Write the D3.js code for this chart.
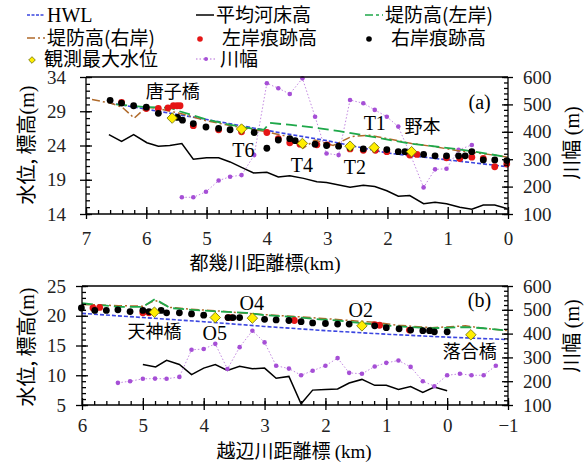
<!DOCTYPE html>
<html>
<head>
<meta charset="utf-8">
<script src="https://cdn.jsdelivr.net/npm/d3@7"></script>
<style>
  body { margin: 0; background: #fff; }
  svg { display: block; }
</style>
</head>
<body>
<svg id="chart" width="584" height="468"></svg>
<script>
// ---- panel (a) 都幾川 : [distance km, value] ----
const hwlA = [[6.6,30.2],[5,27.8],[4,26.2],[3,24.7],[2,22.9],[1,21.9],[0,20.9]];
const bedA = [[6.62,25.6],[6.41,24.6],[6.21,25.6],[5.99,24.4],[5.8,23.9],[5.61,24.0],[5.41,24.3],[5.22,22.0],[5.0,22.2],[4.8,22.2],[4.61,21.6],[4.42,20.8],[4.22,20.0],[4.0,20.1],[3.81,19.4],[3.62,19.6],[3.39,19.2],[3.17,18.7],[3.01,18.6],[2.62,17.9],[2.4,18.2],[2.21,18.0],[2.01,17.4],[1.82,16.6],[1.63,16.7],[1.4,15.5],[1.21,15.7],[1.02,15.5],[0.8,15.0],[0.6,14.7],[0.41,15.3],[0.22,15.3],[0.02,14.8]];
const leveeLA = [[6.5,30.0],[6.0,29.6],[5.6,29.5],[5.45,29.0],[5.0,27.8],[4.6,27.0],[4.2,26.4],[4.05,26.3],[3.95,27.3],[3.6,27.0],[3.2,26.6],[2.8,26.1],[2.4,25.5],[1.63,24.3],[1.25,23.9],[0.7,23.3],[0,22.3]];
const leveeRA = [[6.9,30.7],[6.6,30.2],[6.4,29.6],[6.2,28.0],[6.0,29.6],[5.8,29.4],[5.6,29.0],[5.4,28.6],[5.0,27.6],[4.6,26.9],[4.2,26.3],[4.0,26.0],[3.6,25.2],[3.4,23.6],[3.2,24.8],[2.9,24.0],[2.6,25.3],[2.3,25.5],[2.0,25.0],[1.6,24.3],[1.2,23.8],[0.8,23.2],[0.4,22.8],[0,22.3]];
const markLA = [[6.41,30.3],[6.0,29.4],[5.8,29.4],[5.64,29.5],[5.55,29.8],[5.49,29.8],[5.44,29.8],[5.22,26.9],[4.8,26.3],[4.42,26.0],[4.0,25.9],[3.81,25.0],[3.62,24.4],[3.45,24.2],[3.17,24.1],[3.0,24.1],[2.62,23.5],[2.4,23.3],[2.2,23.3],[2.01,23.1],[1.63,22.6],[1.51,22.7],[1.02,22.2],[0.8,22.1],[0.6,22.3],[0.41,22.1],[0.22,20.9],[0.02,21.3]];
const markRA = [[6.6,30.6],[6.41,30.2],[6.21,29.8],[6.0,29.6],[5.8,28.7],[5.48,28.1],[5.4,27.7],[5.22,27.2],[5.01,26.7],[4.8,26.5],[4.61,26.3],[4.21,25.9],[4.0,23.6],[3.81,24.8],[3.62,25.0],[3.53,24.7],[3.2,24.2],[3.01,24.0],[2.81,23.9],[2.62,23.7],[2.4,23.5],[2.21,23.7],[2.01,23.4],[1.82,23.1],[1.71,23.1],[1.4,22.7],[1.21,22.5],[1.02,22.5],[0.82,22.5],[0.71,22.5],[0.6,23.1],[0.41,21.9],[0.22,21.9],[0.02,21.8]];
const maxLevelA = [[5.57,28.0],[4.42,26.4],[3.41,24.3],[2.62,23.9],[2.22,23.7],[1.6,23.1]];
const widthA = [[5.41,161],[5.22,161],[5.01,181],[4.8,222],[4.61,236],[4.42,242],[4.21,315],[4.0,577],[3.81,559],[3.62,538],[3.41,595],[3.2,455],[3.01,321],[2.81,315],[2.62,516],[2.4,504],[2.21,480],[2.01,455],[1.82,419],[1.61,312],[1.4,197],[1.21,263],[1.02,265],[0.82,334],[0.6,352]];
const labelsA = [["唐子橋",5.56,92,"jp"],["T6",4.39,150,"en"],["T4",3.42,165,"en"],["T2",2.54,167,"en"],["T1",2.21,123,"en"],["野本",1.42,127,"jp"],["(a)",0.47,102,"en"]];

// ---- panel (b) 越辺川 ----
const hwlB = [[6,20.4],[5,19.7],[4,19.0],[3,18.2],[2,17.5],[1,16.9],[0,16.4],[-1,16.0]];
const bedB = [[5.0,11.8],[4.79,11.4],[4.61,12.5],[4.4,11.8],[4.2,10.1],[4.0,11.2],[3.81,11.8],[3.61,10.8],[3.41,11.5],[3.2,11.1],[3.0,11.2],[2.81,9.5],[2.6,9.8],[2.4,5.2],[2.21,7.5],[2.0,7.6],[1.8,7.7],[1.61,8.7],[1.4,9.3],[1.19,8.3],[1.0,8.3],[0.8,7.6],[0.6,8.1],[0.4,7.1],[0.21,8.0],[0,7.4]];
const leveeLB = [[6,22.1],[5.4,21.5],[5.0,21.5],[4.8,22.8],[4.55,21.3],[4.2,21.0],[3.75,20.7],[3.3,20.5],[3.0,20.1],[2.55,19.8],[2.1,19.4],[1.9,19.3],[1.35,18.7],[0.8,18.2],[0.25,17.9],[-0.3,18.1],[-0.6,17.9],[-1,17.5]];
const leveeRB = [[6,21.9],[5.4,21.7],[5.0,21.6],[4.8,22.6],[4.55,21.4],[4.2,21.1],[3.75,20.8],[3.3,20.4],[3.0,20.2],[2.55,19.9],[2.1,19.6],[1.6,19.2],[1.2,18.9],[0.8,18.4],[0.25,18.0],[-0.3,18.3],[-0.6,17.9],[-1,17.5]];
const markLB = [[5.82,21.3],[5.71,21.4],[5.0,20.5],[4.9,20.5],[3.6,19.7],[3.55,19.7],[2.51,19.2],[1.19,18.5],[1.11,18.4],[0.62,17.6]];
const markRB = [[6.01,21.3],[5.79,20.9],[5.6,20.9],[5.41,21.0],[5.21,20.7],[5.0,20.9],[4.9,20.7],[4.7,20.9],[4.61,20.5],[4.4,20.5],[4.2,20.3],[4.0,20.1],[3.6,19.7],[3.52,19.7],[3.41,19.7],[3.0,19.4],[2.81,19.3],[2.6,19.2],[2.4,19.0],[2.21,18.8],[2.0,18.7],[1.8,18.6],[1.61,18.6],[1.19,18.3],[1.0,18.0],[0.79,17.8],[0.6,17.6],[0.4,17.5],[0.29,17.5],[0.21,17.3],[0,17.3]];
const maxLevelB = [[4.81,20.6],[3.81,19.7],[3.2,19.6],[1.4,18.3],[-0.39,16.8]];
const widthB = [[5.41,193],[5.21,200],[5.0,210],[4.8,211],[4.61,210],[4.4,218],[4.2,332],[4.0,335],[3.81,357],[3.61,251],[3.41,343],[3.2,412],[3.0,363],[2.81,265],[2.6,253],[2.4,225],[2.21,244],[2.0,265],[1.8,297],[1.61,235],[1.4,231],[1.19,262],[1.0,277],[0.8,287],[0.6,260],[0.4,200],[0.21,179],[0,225],[-0.21,231],[-0.4,225],[-0.6,225],[-0.8,265]];
const labelsB = [["天神橋",4.81,332,"jp"],["O5",3.82,333,"en"],["O4",3.21,303,"en"],["O2",1.42,310,"en"],["落合橋",-0.37,352,"jp"],["(b)",-0.53,300,"en"]];

const ticksA = [7,6,5,4,3,2,1,0];
const ticksB = [6,5,4,3,2,1,0,-1];
const levelTicksA = [14,19,24,29,34];
const levelTicksB = [5,10,15,20,25];
const widthTicks = [100,200,300,400,500,600];

const legendItems = [
  ["HWL","hwl"],["平均河床高","bed"],["堤防高(左岸)","leveeL"],
  ["堤防高(右岸)","leveeR"],["左岸痕跡高","markL"],["右岸痕跡高","markR"],
  ["観測最大水位","maxLevel"],["川幅","width"]
];

const SERIF = "'Liberation Serif','Times New Roman',serif";
const JP = "'Noto Sans CJK JP','Noto Sans',sans-serif";

const style = {
  hwl: {stroke: "#3a45e0", width: 1.6, dash: "4,2"},
  bed: {stroke: "#000", width: 1.5, dash: null},
  leveeL: {stroke: "#1fa84a", width: 1.8, dash: "11,5"},
  leveeR: {stroke: "#b06a2a", width: 1.5, dash: "8,3,2,3"},
  width: {stroke: "#b36ad8", width: 0.8, dash: "1.5,2"}
};

const svg = d3.select("#chart");

// legend
const legX = [27, 196, 365];
const legY = [15, 38, 59];
legendItems.forEach((it, i) => {
  const g = svg.append("g").attr("transform", `translate(${legX[i % 3]},${legY[Math.floor(i / 3)]})`);
  const k = it[1];
  let tx = 20;
  if (style[k]) {
    g.append("line").attr("x1", 0).attr("x2", k === "width" ? 19 : 18).attr("y1", 0).attr("y2", 0)
      .attr("stroke", style[k].stroke).attr("stroke-width", k === "width" ? 1 : 1.5)
      .attr("stroke-dasharray", k === "hwl" ? "3,1.5" : k === "leveeL" ? "8,3,3,3" : style[k].dash);
    if (k === "width") g.append("circle").attr("cx", 10).attr("cy", 0).attr("r", 2).attr("fill", "#a64fd6");
  } else if (k === "markL" || k === "markR") {
    g.append("circle").attr("cx", 4).attr("cy", 1).attr("r", 2.8).attr("fill", k === "markL" ? "#e51616" : "#000");
    tx = 26;
  } else {
    g.append("path").attr("d", d3.symbol(d3.symbolDiamond2, 28)()).attr("transform", "translate(5,1)")
      .attr("fill", "#ffee00").attr("stroke", "#6b6b00").attr("stroke-width", 0.8);
    tx = 17;
  }
  if (k === "width") tx = 24;
  g.append("text").attr("x", tx).attr("y", 7)
    .attr("font-family", k === "hwl" ? SERIF : JP).attr("font-size", k === "hwl" ? 20 : 19)
    .text(it[0]);
});

function drawPanel(cfg) {
  const x = d3.scaleLinear().domain(cfg.xDomain).range([cfg.left, cfg.right]);
  const y = d3.scaleLinear().domain(cfg.yDomain).range([cfg.bottom, cfg.top]);
  const w = d3.scaleLinear().domain([100, 600]).range([cfg.bottom, cfg.top]);
  const g = svg.append("g");

  const line = (sc) => d3.line().x(d => x(d[0])).y(d => sc(d[1]));
  const addLine = (data, k, sc) => {
    g.append("path").datum(data).attr("d", line(sc)).attr("fill", "none")
      .attr("stroke", style[k].stroke).attr("stroke-width", style[k].width)
      .attr("stroke-dasharray", style[k].dash);
  };

  addLine(cfg.bed, "bed", y);
  addLine(cfg.width, "width", w);
  g.selectAll(".wdot").data(cfg.width).join("circle")
    .attr("cx", d => x(d[0])).attr("cy", d => w(d[1])).attr("r", 2.3).attr("fill", "#a64fd6");
  addLine(cfg.hwl, "hwl", y);
  addLine(cfg.leveeR, "leveeR", y);
  addLine(cfg.leveeL, "leveeL", y);

  g.selectAll(".ml").data(cfg.markL).join("circle")
    .attr("cx", d => x(d[0])).attr("cy", d => y(d[1])).attr("r", 3.4).attr("fill", "#e51616");
  g.selectAll(".mr").data(cfg.markR).join("circle")
    .attr("cx", d => x(d[0])).attr("cy", d => y(d[1])).attr("r", 3.4).attr("fill", "#000");
  g.selectAll(".mx").data(cfg.maxLevel).join("path")
    .attr("d", d3.symbol(d3.symbolDiamond2, 70)())
    .attr("transform", d => `translate(${x(d[0])},${y(d[1])})`)
    .attr("fill", "#ffee00").attr("stroke", "#6b6b00").attr("stroke-width", 0.8);

  // frame top
  g.append("line").attr("x1", cfg.left).attr("x2", cfg.right).attr("y1", cfg.top).attr("y2", cfg.top)
    .attr("stroke", "#000").attr("stroke-width", 1.5);

  // bottom axis
  const xb = g.append("g").attr("transform", `translate(0,${cfg.bottom})`)
    .call(d3.axisBottom(x).tickValues(d3.range(cfg.xDomain[1], cfg.xDomain[0] + 0.001, 0.2)).tickSize(-4).tickFormat(""));
  xb.select(".domain").remove();
  const xa = g.append("g").attr("transform", `translate(0,${cfg.bottom})`)
    .call(d3.axisBottom(x).tickValues(cfg.xTicks).tickSize(5).tickPadding(cfg.xPad).tickFormat(d3.format("d")));
  xa.selectAll(".tick line").attr("y1", -7);
  xa.select(".domain").attr("d", `M${cfg.left},0H${cfg.right}`);

  // left axis
  const yMin = g.append("g").attr("transform", `translate(${cfg.left},0)`)
    .call(d3.axisLeft(y).ticks(cfg.yDomain[1] - cfg.yDomain[0]).tickSize(-4).tickFormat(""));
  yMin.select(".domain").remove();
  const ya = g.append("g").attr("transform", `translate(${cfg.left},0)`)
    .call(d3.axisLeft(y).tickValues(cfg.yTicks).tickSize(6).tickPadding(cfg.left - 66 - 6));
  ya.selectAll(".tick line").attr("x1", 6);
  ya.select(".domain").attr("d", `M0,${cfg.top}V${cfg.bottom}`);

  // right axis
  const wMin = g.append("g").attr("transform", `translate(${cfg.right},0)`)
    .call(d3.axisRight(w).tickValues(d3.range(100, 601, 20)).tickSize(-4).tickFormat(""));
  wMin.select(".domain").remove();
  const wa = g.append("g").attr("transform", `translate(${cfg.right},0)`)
    .call(d3.axisRight(w).tickValues(widthTicks).tickSize(5).tickPadding(10));
  wa.selectAll(".tick line").attr("x1", -6);
  wa.select(".domain").attr("d", `M0,${cfg.top}V${cfg.bottom}`);

  g.selectAll(".domain, .tick line").attr("stroke", "#000").attr("stroke-width", 1.3);
  g.selectAll(".tick text").attr("font-family", SERIF).attr("font-size", 19).attr("fill", "#222");

  // inline labels
  cfg.labels.forEach(l => {
    g.append("text").attr("x", x(l[1])).attr("y", l[2]).attr("dy", "0.35em")
      .attr("text-anchor", "middle")
      .attr("font-family", l[3] === "jp" ? JP : SERIF)
      .attr("font-size", l[3] === "jp" ? 18 : 20).text(l[0]);
  });

  // axis titles
  const lt = g.append("text").attr("transform", `translate(34,${cfg.yTitle}) rotate(-90)`)
    .attr("text-anchor", "middle").attr("font-family", JP).attr("font-size", 20);
  lt.append("tspan").text("水位, 標高");
  lt.append("tspan").attr("font-family", SERIF).text("(m)");
  const rt = g.append("text").attr("transform", `translate(579,${cfg.rTitle}) rotate(-90)`)
    .attr("text-anchor", "middle").attr("font-family", JP).attr("font-size", 20);
  rt.append("tspan").text("川幅 ");
  rt.append("tspan").attr("font-family", SERIF).text("(m)");
  const bt = g.append("text").attr("x", cfg.xTitleX).attr("y", cfg.xTitleY)
    .attr("text-anchor", "middle").attr("font-family", JP).attr("font-size", 19);
  bt.append("tspan").text(cfg.xTitle);
  bt.append("tspan").attr("font-family", SERIF).text(cfg.xUnit);
}

drawPanel({
  xDomain: [7, 0], yDomain: [14, 34], left: 86, right: 508, top: 77, bottom: 214,
  xTicks: ticksA, yTicks: levelTicksA, xPad: 13,
  hwl: hwlA, bed: bedA, leveeL: leveeLA, leveeR: leveeRA,
  markL: markLA, markR: markRA, maxLevel: maxLevelA, width: widthA, labels: labelsA,
  yTitle: 145, rTitle: 143, xTitle: "都幾川距離標", xUnit: "(km)", xTitleX: 265, xTitleY: 270
});

drawPanel({
  xDomain: [6, -1], yDomain: [5, 25], left: 82, right: 508, top: 286, bottom: 405,
  xTicks: ticksB, yTicks: levelTicksB, xPad: 9,
  hwl: hwlB, bed: bedB, leveeL: leveeLB, leveeR: leveeRB,
  markL: markLB, markR: markRB, maxLevel: maxLevelB, width: widthB, labels: labelsB,
  yTitle: 347, rTitle: 336, xTitle: "越辺川距離標 ", xUnit: "(km)", xTitleX: 294, xTitleY: 458
});
</script>
</body>
</html>
